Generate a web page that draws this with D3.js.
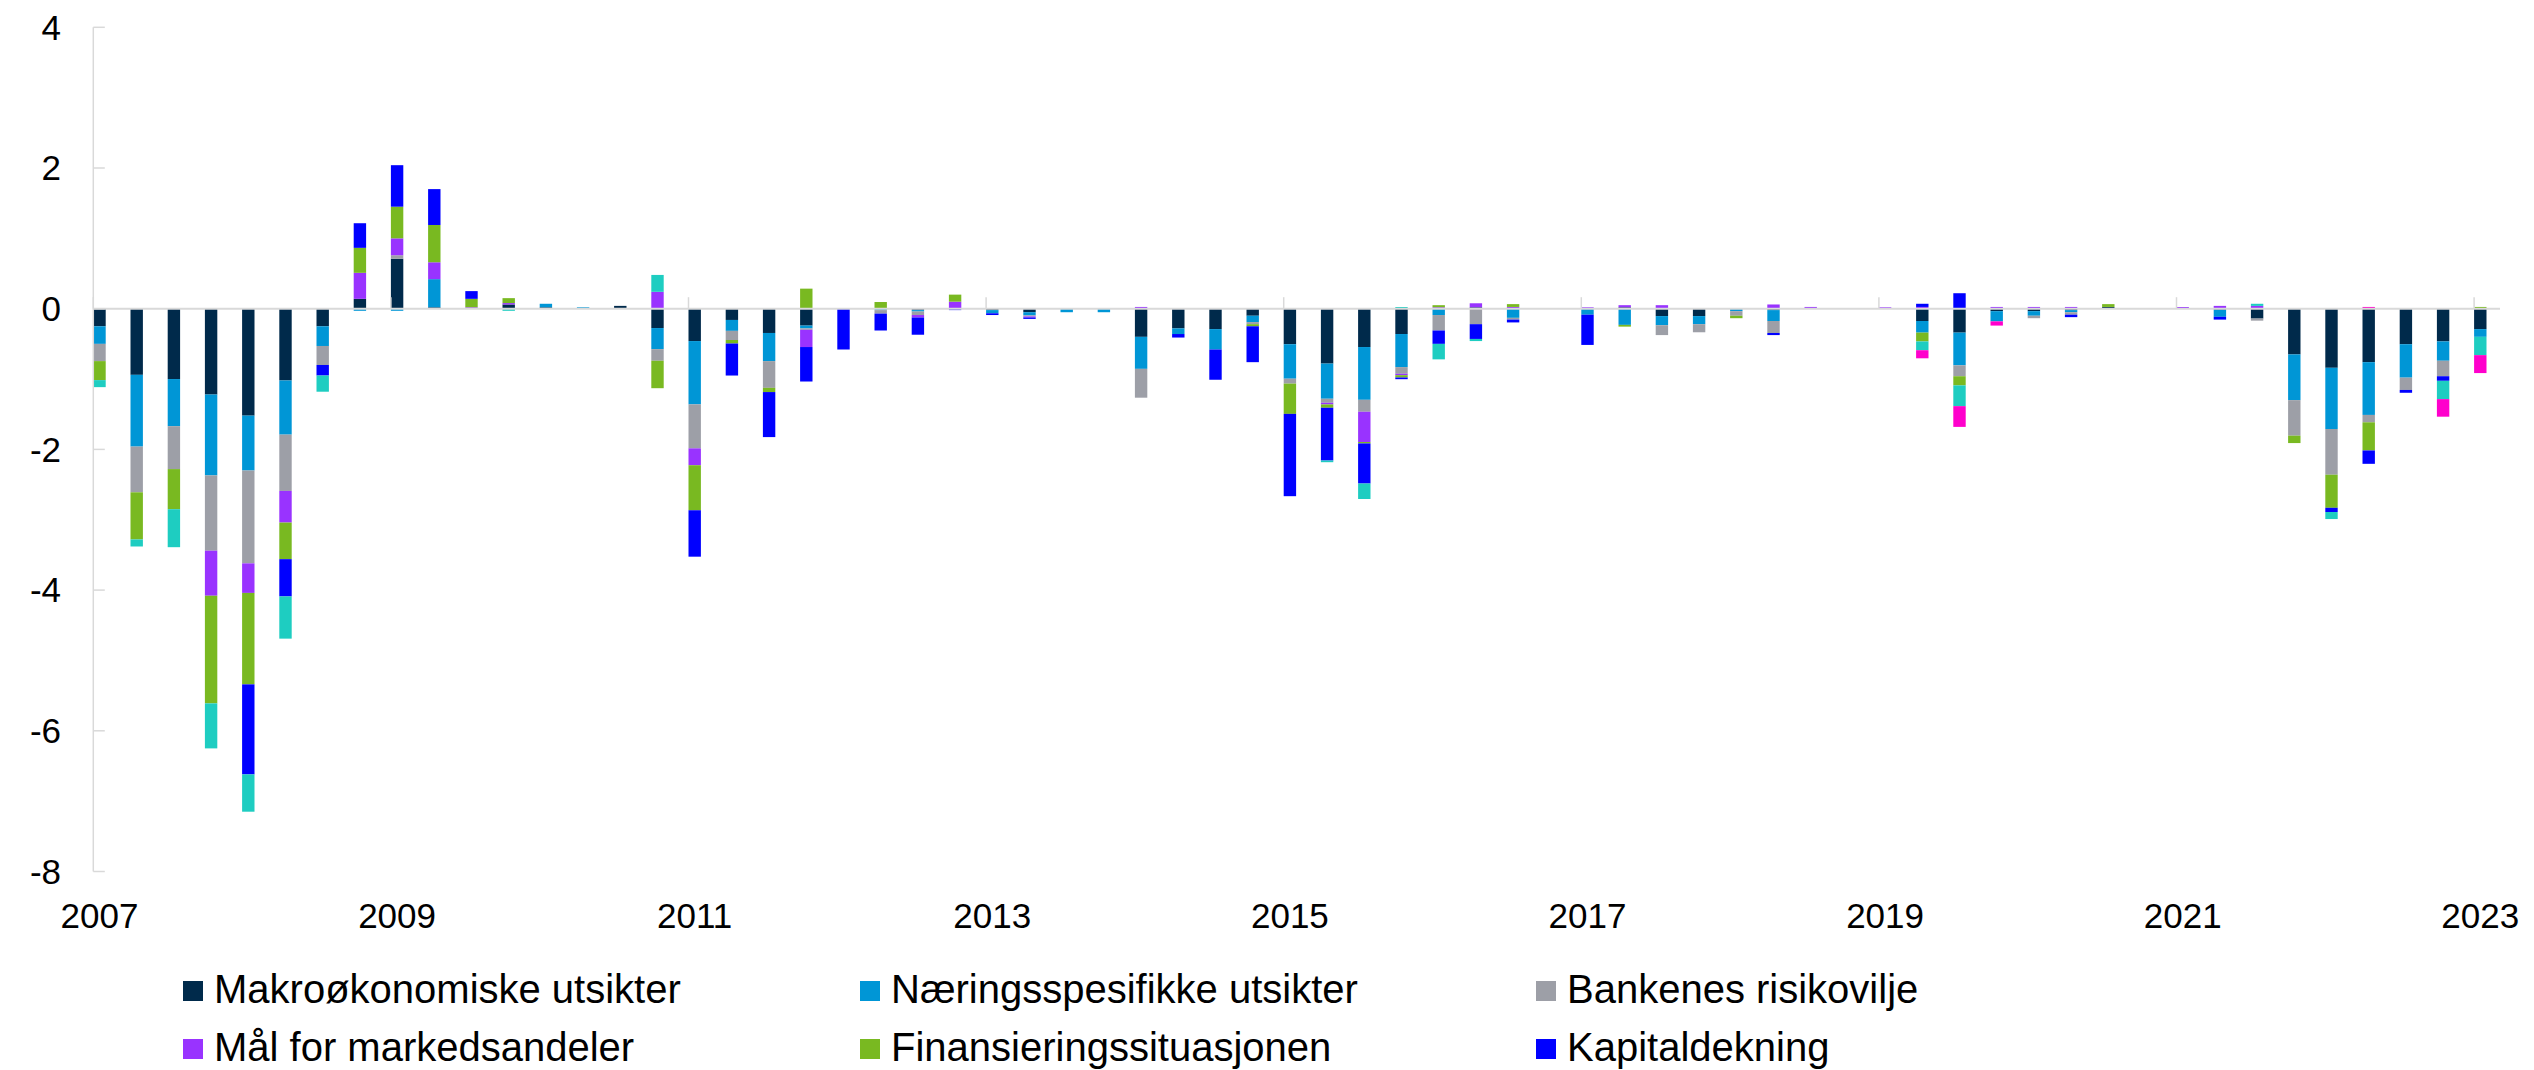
<!DOCTYPE html>
<html>
<head>
<meta charset="utf-8">
<script src="https://cdn.jsdelivr.net/npm/d3@7"></script>
<style>
  html, body { margin: 0; padding: 0; background: #ffffff; }
  svg { display: block; }
  text { font-family: "Liberation Sans", Arial, sans-serif; fill: #000; }
</style>
</head>
<body>
<svg id="chart" width="2534" height="1070"></svg>
<script>
// ---------- Data ----------
const quarters = [
  "2007K4",
  "2008K1","2008K2","2008K3","2008K4",
  "2009K1","2009K2","2009K3","2009K4",
  "2010K1","2010K2","2010K3","2010K4",
  "2011K1","2011K2","2011K3","2011K4",
  "2012K1","2012K2","2012K3","2012K4",
  "2013K1","2013K2","2013K3","2013K4",
  "2014K1","2014K2","2014K3","2014K4",
  "2015K1","2015K2","2015K3","2015K4",
  "2016K1","2016K2","2016K3","2016K4",
  "2017K1","2017K2","2017K3","2017K4",
  "2018K1","2018K2","2018K3","2018K4",
  "2019K1","2019K2","2019K3","2019K4",
  "2020K1","2020K2","2020K3","2020K4",
  "2021K1","2021K2","2021K3","2021K4",
  "2022K1","2022K2","2022K3","2022K4",
  "2023K1","2023K2","2023K3","2023K4"
];

const seriesNames = [
  "Makroøkonomiske utsikter",
  "Næringsspesifikke utsikter",
  "Bankenes risikovilje",
  "Mål for markedsandeler",
  "Finansieringssituasjonen",
  "Kapitaldekning",
  "Andre forhold",
  "Regulering"
];

const makro = [-0.25,-0.94,-1.0,-1.22,-1.52,-1.02,-0.25,0.14,0.71,0.02,0,0.06,0.02,0,0.04,-0.275,
  -0.46,-0.16,-0.345,-0.24,0,0,-0.02,0,-0.02,-0.05,0,0,-0.40,-0.28,-0.29,-0.10,
  -0.505,-0.78,-0.545,-0.36,0,0.02,0,0,0,0.02,-0.105,-0.105,0,-0.02,0,0,
  0,-0.175,-0.34,-0.035,-0.035,-0.02,0.025,0,0,-0.015,-0.14,-0.65,-0.84,-0.76,-0.505,-0.465,-0.29];

const naering = [-0.25,-1.02,-0.67,-1.15,-0.78,-0.77,-0.28,-0.03,-0.03,0.40,0,0,0.05,0.02,0,-0.30,
  -0.90,-0.155,-0.40,-0.04,0,-0.02,-0.02,0,-0.045,-0.045,-0.05,-0.05,-0.455,-0.08,-0.29,-0.09,
  -0.49,-0.50,-0.75,-0.47,-0.09,0,-0.13,0,-0.085,-0.23,-0.13,-0.115,-0.035,-0.155,0,0,
  0,-0.165,-0.465,-0.145,-0.065,-0.03,0,0,0,-0.10,0,-0.65,-0.87,-0.75,-0.475,-0.275,-0.11];

const risikovilje = [-0.245,-0.65,-0.61,-1.07,-1.32,-0.80,-0.27,0,0.05,0,0,0,0,0,0,-0.165,
  -0.625,-0.13,-0.38,-0.02,0,-0.05,-0.05,0,0,-0.015,0,0,-0.41,0,0,-0.03,
  -0.07,-0.057,-0.17,-0.095,-0.22,-0.22,-0.025,0,0,0,-0.14,-0.115,-0.065,-0.17,0,0,
  0,0,-0.155,0,-0.035,-0.035,0,0,0,0,-0.03,-0.505,-0.65,-0.105,-0.175,-0.22,0];

const markedsandeler = [0,0,0,-0.64,-0.42,-0.45,0,0.37,0.24,0.24,0.02,0.02,0,0,0,0.24,
  -0.24,0,0,-0.245,0,0,-0.035,0.10,0,-0.015,0,0,0.025,0,0,0,
  0,-0.024,-0.43,-0.02,0.02,0.057,0.025,0,0.02,0.03,0.05,0,0,0.06,0.025,0,
  0.02,0.025,0,0.025,0.025,0.025,0,0,0.024,0.04,0.04,0,0,0,0,0,0];

const finansiering = [-0.27,-0.67,-0.57,-1.53,-1.30,-0.52,0,0.355,0.45,0.53,0.12,0.07,0,0,0,-0.39,
  -0.64,-0.05,-0.06,0.285,0,0.095,0,0.10,0,0,0,0,0,0,0,-0.03,
  -0.43,-0.047,-0.02,-0.033,0.03,0,0.04,0,0,-0.025,0,0,-0.035,0,0,0,
  0,-0.125,-0.13,0,0,0,0.04,0,0,0,0,-0.105,-0.47,-0.40,0,0,0.025];

const kapitaldekning = [0,0,0,0,-1.28,-0.53,-0.15,0.35,0.59,0.51,0.11,0,0,0,0,0,
  -0.66,-0.455,-0.64,-0.49,-0.58,-0.24,-0.245,-0.02,-0.025,-0.02,0,0,0,-0.05,-0.43,-0.51,
  -1.17,-0.75,-0.57,-0.024,-0.19,-0.21,-0.04,0,-0.43,0,0,0,0,-0.03,0,0,
  0,0.045,0.22,0,0,-0.035,0,0,0,-0.04,0,0,-0.06,-0.19,-0.04,-0.065,0];

const andre = [-0.10,-0.10,-0.54,-0.64,-0.53,-0.60,-0.23,0,0,0,0,-0.03,0,0,0,0.24,
  0,0,0,0,0,0,0,0,0,0,0,0,0,0,0,0,
  0,-0.024,-0.22,0.024,-0.22,-0.03,0,0,0,0,0,0,0,0,0,0,
  0,-0.125,-0.295,0,0,0,0,0,0,0,0.03,0,-0.10,0,0,-0.26,-0.26];

const regulering = [0,0,0,0,0,0,0,0,0,0,0,0,0,0,0,0,
  0,0,0,0,0,0,0,0,0,0,0,0,0,0,0,0,
  0,0,0,0,0,0,0,0,0,0,0,0,0,0,0,0,
  0,-0.115,-0.295,-0.06,0,0,0,0,0,0,0,0,0,0.025,0,-0.25,-0.255];

const seriesColors = ["#002A4B","#0096D6","#9D9FA7","#9933FF","#79B921","#0000FF","#1ECDC1","#FF00CC"];

const yTicks = [-8,-6,-4,-2,0,2,4];
const xTickLabels = ["2007","2009","2011","2013","2015","2017","2019","2021","2023"];
const xTickIndex = [0,8,16,24,32,40,48,56,64];

// legend shows the first six series (the rest is cut off in the original)
const legendCount = 6;

// ---------- Build table ----------
const seriesValues = [makro, naering, risikovilje, markedsandeler, finansiering, kapitaldekning, andre, regulering];
const table = quarters.map((q, i) => {
  const row = { q };
  seriesNames.forEach((n, s) => { row[n] = seriesValues[s][i]; });
  return row;
});

// ---------- Layout ----------
const svg = d3.select("#chart");
const plotLeft = 93.3, plotRight = 2486.5, lineRight = 2500;
const yTop = 27.3, yBottom = 871.5;

const x = d3.scaleBand()
  .domain(quarters)
  .range([plotLeft, plotRight])
  .paddingInner(2/3)
  .paddingOuter(0);

const y = d3.scaleLinear().domain([-8, 4]).range([yBottom, yTop]);

const stack = d3.stack().keys(seriesNames).offset(d3.stackOffsetDiverging);
const stacked = stack(table);

const color = d3.scaleOrdinal().domain(seriesNames).range(seriesColors);

// bars
svg.append("g").selectAll("g")
  .data(stacked)
  .join("g")
  .attr("fill", d => color(d.key))
  .selectAll("rect")
  .data(d => d)
  .join("rect")
  .attr("x", d => x(d.data.q))
  .attr("width", x.bandwidth())
  .attr("y", d => y(Math.max(d[0], d[1])))
  .attr("height", d => Math.abs(y(d[0]) - y(d[1])));

// y axis line and ticks
const axisColor = "#d9d9d9";
const yAxis = svg.append("g");
yAxis.append("line")
  .attr("x1", plotLeft).attr("x2", plotLeft)
  .attr("y1", y(4)).attr("y2", y(-8))
  .attr("stroke", axisColor).attr("stroke-width", 1.5);
yAxis.selectAll("line.tick")
  .data(yTicks)
  .join("line")
  .attr("class", "tick")
  .attr("x1", plotLeft).attr("x2", plotLeft + 11.5)
  .attr("y1", d => y(d)).attr("y2", d => y(d))
  .attr("stroke", axisColor).attr("stroke-width", 1.5);
yAxis.selectAll("text")
  .data(yTicks)
  .join("text")
  .attr("x", 61)
  .attr("y", d => y(d))
  .attr("dy", "0.35em")
  .attr("text-anchor", "end")
  .attr("font-size", 35)
  .text(d => d);

// zero line (x axis) and ticks
const xAxis = svg.append("g");
xAxis.append("line")
  .attr("x1", plotLeft).attr("x2", lineRight)
  .attr("y1", y(0)).attr("y2", y(0))
  .attr("stroke", axisColor).attr("stroke-width", 2);
xAxis.selectAll("line.tick")
  .data(xTickIndex)
  .join("line")
  .attr("class", "tick")
  .attr("x1", i => x(quarters[i])).attr("x2", i => x(quarters[i]))
  .attr("y1", y(0)).attr("y2", y(0) - 11.5)
  .attr("stroke", axisColor).attr("stroke-width", 1.5);
xAxis.selectAll("text")
  .data(xTickIndex)
  .join("text")
  .attr("x", i => x(quarters[i]) + x.bandwidth() / 2)
  .attr("y", 928)
  .attr("text-anchor", "middle")
  .attr("font-size", 35)
  .text((i, k) => xTickLabels[k]);

// legend
const legendCols = [183, 860, 1536];
const legendRows = [981, 1039];
const legend = svg.append("g");
const items = seriesNames.slice(0, legendCount).map((n, i) => ({ n, i }));
const li = legend.selectAll("g")
  .data(items)
  .join("g")
  .attr("transform", d => `translate(${legendCols[d.i % 3]},${legendRows[Math.floor(d.i / 3)]})`);
li.append("rect")
  .attr("width", 20).attr("height", 20)
  .attr("fill", d => color(d.n));
li.append("text")
  .attr("x", 31)
  .attr("y", 22)
  .attr("font-size", 40)
  .text(d => d.n);
</script>
</body>
</html>
